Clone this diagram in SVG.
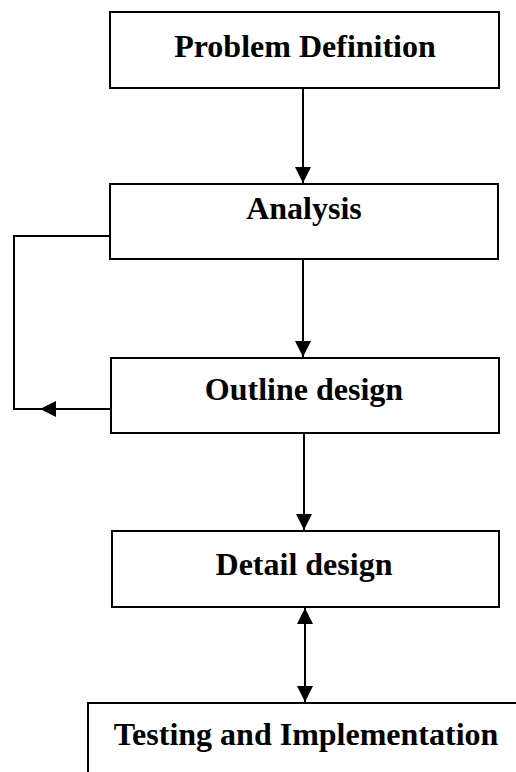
<svg xmlns="http://www.w3.org/2000/svg" width="516" height="772" viewBox="0 0 516 772">
<defs>
<style>
.box{fill:#fff;stroke:#000;stroke-width:2}
.lbl{font-family:"Liberation Serif","Times New Roman",serif;font-weight:bold;font-size:32px;fill:#000;text-anchor:middle}
.conn{fill:none;stroke:#000;stroke-width:2}
</style>
<marker id="ah" viewBox="0 0 16 16" refX="16" refY="8" markerWidth="16" markerHeight="16" markerUnits="userSpaceOnUse" orient="auto-start-reverse">
<path d="M0,0 L16,8 L0,16 Z" fill="#000"/>
</marker>
</defs>
<rect width="516" height="772" fill="#fff"/>
<g id="n1"><rect class="box" x="110" y="12" width="389" height="76"/><text class="lbl" x="305" y="57">Problem Definition</text></g>
<g id="n2"><rect class="box" x="110" y="184" width="388" height="75"/><text class="lbl" x="304" y="219">Analysis</text></g>
<g id="n3"><rect class="box" x="111" y="358" width="388" height="75"/><text class="lbl" x="304" y="400">Outline design</text></g>
<g id="n4"><rect class="box" x="112" y="531" width="387" height="76"/><text class="lbl" x="304" y="575">Detail design</text></g>
<g id="n5"><path class="box" d="M88,772 V703 H530" /><text class="lbl" x="306" y="745">Testing and Implementation</text></g>
<g id="connectors">
<line class="conn" x1="303" y1="88" x2="303" y2="183" marker-end="url(#ah)"/>
<line class="conn" x1="303" y1="259" x2="303" y2="357" marker-end="url(#ah)"/>
<line class="conn" x1="304" y1="433" x2="304" y2="530" marker-end="url(#ah)"/>
<line class="conn" x1="305" y1="608" x2="305" y2="702" marker-start="url(#ah)" marker-end="url(#ah)"/>
<polyline class="conn" points="110,236 14,236 14,409 40,409"/>
<line class="conn" x1="110" y1="409" x2="40" y2="409" marker-end="url(#ah)"/>
</g>
</svg>
